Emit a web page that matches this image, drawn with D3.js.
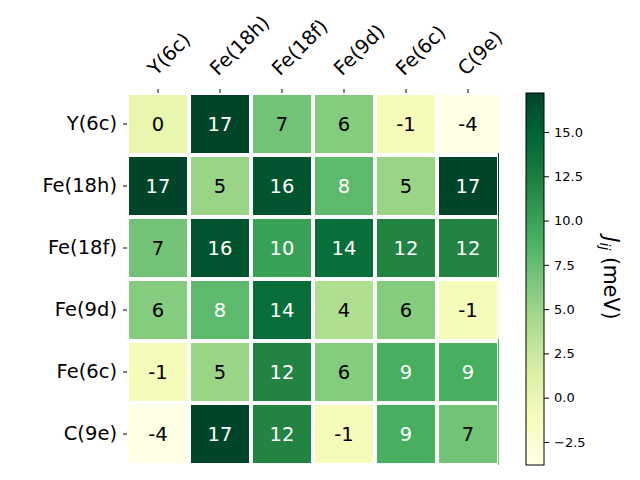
<!DOCTYPE html>
<html><head><meta charset="utf-8">
<script src="https://cdn.jsdelivr.net/npm/d3@7"></script>
<style>body{margin:0;background:#fff}svg{display:block;font-family:"DejaVu Sans",sans-serif}</style>
</head><body><svg id="c" width="640" height="480"></svg>
<script>
const sites = ["Y(6c)", "Fe(18h)", "Fe(18f)", "Fe(9d)", "Fe(6c)", "C(9e)"];
const values = [
  [0.1, 17.2, 7.0, 6.0, -1.0, -3.8],
  [17.2, 5.0, 16.0, 8.0, 5.0, 17.2],
  [7.0, 16.0, 10.0, 14.0, 12.0, 12.0],
  [6.0, 8.0, 14.0, 4.0, 6.0, -1.0],
  [-1.0, 5.0, 12.0, 6.0, 9.0, 9.0],
  [-3.8, 17.2, 12.0, -1.0, 9.0, 7.0]
];
const cbTicks = [-2.5, 0.0, 2.5, 5.0, 7.5, 10.0, 12.5, 15.0];
const ylgn = ["#ffffe5","#f7fcb9","#d9f0a3","#addd8e","#78c679","#41ab5d","#238443","#006837","#004529"];

const svg = d3.select("#c");
const L = 127, R = 499, T = 93, B = 465;
const x = d3.scaleBand().domain(d3.range(6)).range([L, R]);
const y = d3.scaleBand().domain(d3.range(6)).range([T, B]);
const flat = values.flat();
const vmin = d3.min(flat), vmax = d3.max(flat);
const norm = d3.scaleLinear().domain([vmin, vmax]).range([0, 1]);
const cmap = d3.scaleLinear().domain(d3.range(9).map(i => i / 8)).range(ylgn).interpolate(d3.interpolateRgb);
const color = v => cmap(norm(v));

const cells = [];
values.forEach((row, i) => row.forEach((v, j) => cells.push({i, j, v})));
const g = svg.append("g");
g.selectAll("rect.cell").data(cells).join("rect")
  .attr("x", d => x(d.j) + 2).attr("y", d => y(d.i) + 2)
  .attr("width", x.bandwidth() - 4).attr("height", y.bandwidth() - 4)
  .attr("fill", d => color(d.v));
g.selectAll("rect.edge").data(cells.filter(d => d.j === 5)).join("rect")
  .attr("x", R - 1).attr("y", d => y(d.i) + (d.i === 0 ? 0 : -2))
  .attr("width", 1).attr("height", y.bandwidth() + 2)
  .attr("fill", d => color(d.v));
g.selectAll("text.ann").data(cells).join("text")
  .attr("x", d => x(d.j) + x.bandwidth() / 2).attr("y", d => y(d.i) + y.bandwidth() / 2 + 7)
  .attr("text-anchor", "middle")
  .attr("font-size", 19.5)
  .attr("fill", d => d.v >= 7.5 ? "#fff" : "#000")
  .text(d => String(Math.round(d.v)));

const yAx = svg.append("g").attr("transform", `translate(${L},0)`)
  .call(d3.axisLeft(y).tickFormat(i => sites[i]).tickSize(4).tickPadding(6));
yAx.select(".domain").remove();
yAx.selectAll("text").attr("font-size", 19.5).attr("fill", "#000").attr("font-family", "DejaVu Sans");
const xAx = svg.append("g").attr("transform", `translate(0,${T})`)
  .call(d3.axisTop(x).tickFormat(i => sites[i]).tickSize(4));
xAx.select(".domain").remove();
xAx.selectAll("text")
  .attr("font-size", 19.5).attr("fill", "#000").attr("font-family", "DejaVu Sans")
  .attr("text-anchor", "start").attr("dy", null)
  .attr("transform", "translate(-2,-16.5) rotate(-45)").attr("x", 0).attr("y", 0);

const cbL = 526, cbW = 18;
const cy = d3.scaleLinear().domain([vmin, vmax]).range([B, T]);
const defs = svg.append("defs");
const grad = defs.append("linearGradient").attr("id", "gr").attr("x1", 0).attr("x2", 0).attr("y1", 1).attr("y2", 0);
d3.range(0, 1.0001, 0.125).forEach(t => grad.append("stop").attr("offset", t).attr("stop-color", cmap(t)));
svg.append("rect").attr("x", cbL).attr("y", T).attr("width", cbW).attr("height", B - T)
  .attr("fill", "url(#gr)").attr("stroke", "#000").attr("stroke-width", 1);
const cAx = svg.append("g").attr("transform", `translate(${cbL + cbW},0)`)
  .call(d3.axisRight(cy).tickValues(cbTicks).tickFormat(d => d3.format(".1f")(d).replace("-", "\u2212")).tickSize(5).tickPadding(5));
cAx.select(".domain").remove();
cAx.selectAll("text").attr("font-size", 13).attr("fill", "#000").attr("font-family", "DejaVu Sans");
const lab = svg.append("text").attr("transform", `translate(604,${(T + B) / 2 - 1}) rotate(90)`)
  .attr("text-anchor", "middle").attr("font-size", 20.5).attr("fill", "#000");
lab.append("tspan").attr("font-style", "italic").text("J");
lab.append("tspan").attr("font-style", "italic").attr("font-size", 14).attr("dy", 4).text("ij");
lab.append("tspan").attr("dy", -4).text(" (meV)");
</script></body></html>
